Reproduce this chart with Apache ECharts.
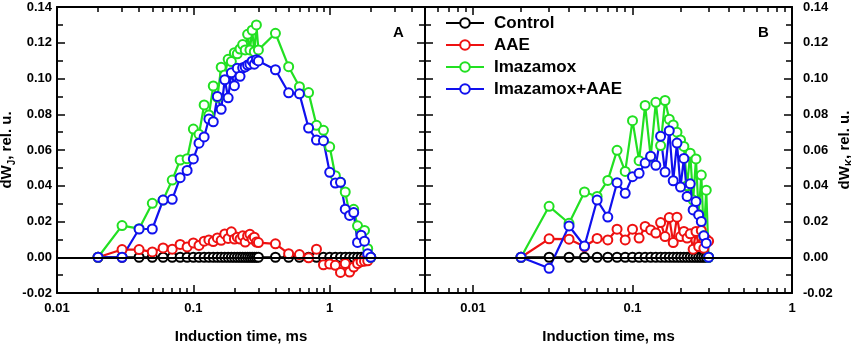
<!DOCTYPE html>
<html>
<head>
<meta charset="utf-8">
<script src="https://cdn.jsdelivr.net/npm/echarts@6.0.0/dist/echarts.min.js"></script>
<style>
  html, body { margin: 0; padding: 0; background: #fff; }
  #chart { width: 851px; height: 348px; }
</style>
</head>
<body>
<div id="chart"></div>
<script>
// induction times, ms
var timesA = [0.02, 0.03, 0.04, 0.05, 0.06, 0.07, 0.08, 0.09, 0.10, 0.11, 0.12, 0.13, 0.14, 0.15, 0.16,
  0.17, 0.18, 0.19, 0.20, 0.21, 0.22, 0.23, 0.24, 0.25, 0.26, 0.27, 0.28, 0.29, 0.30,
  0.4, 0.5, 0.6, 0.7, 0.8, 0.9, 1.0, 1.1, 1.2, 1.3, 1.4, 1.5, 1.6, 1.7, 1.8, 1.9, 2.0];
var timesB = [0.02, 0.03, 0.04, 0.05, 0.06, 0.07, 0.08, 0.09, 0.10, 0.11, 0.12, 0.13, 0.14, 0.15, 0.16,
  0.17, 0.18, 0.19, 0.20, 0.21, 0.22, 0.23, 0.24, 0.25, 0.26, 0.27, 0.28, 0.29, 0.30];

var seriesNames = ['Control', 'AAE', 'Imazamox', 'Imazamox+AAE'];
var seriesColors = ['#000000', '#ee1111', '#22e022', '#1010ee'];

// panel A: dWJ
var controlA = [0, 0, 0, 0, 0, 0, 0, 0, 0, 0, 0, 0, 0, 0, 0, 0, 0, 0, 0, 0, 0, 0, 0, 0, 0, 0, 0, 0, 0,
  0, 0, 0, 0, 0, 0, 0, 0, 0, 0, 0, 0, 0, 0, 0, 0, 0];
var aaeA = [0, 0.0043, 0.0043, 0.003, 0.0052, 0.0045, 0.0072, 0.0058, 0.008, 0.0066, 0.009, 0.0097, 0.0088,
  0.0108, 0.0095, 0.013, 0.0105, 0.0142, 0.0102, 0.0112, 0.0102, 0.012, 0.0085, 0.012, 0.0128, 0.0102,
  0.0112, 0.0085, 0.0082,
  0.0075, 0.002, 0.0015, -0.0003, 0.0045, -0.0042, -0.0038, -0.0045, -0.0085, -0.0035, -0.0083, -0.0055,
  -0.0035, -0.0025, -0.0022, -0.002, 0];
var imazA = [0, 0.0177, 0.016, 0.0302, 0.032, 0.0432, 0.0544, 0.0551, 0.0717, 0.0688, 0.0852, 0.0796, 0.0958,
  0.0895, 0.1063, 0.1020, 0.1107, 0.1095, 0.1144, 0.1138, 0.1165, 0.1190, 0.1160, 0.1247, 0.1160, 0.1270,
  0.1150, 0.1300, 0.1160,
  0.1253, 0.1066, 0.0954, 0.0921, 0.0738, 0.0710, 0.0618, 0.0456, 0.0420, 0.0365, 0.0240, 0.0268, 0.0176,
  0.0135, 0.0150, 0.0048, 0];
var imazAaeA = [0, 0, 0.0158, 0.0158, 0.032, 0.0324, 0.0445, 0.0486, 0.055, 0.0638, 0.0673, 0.0773, 0.0758,
  0.090, 0.0828, 0.0993, 0.0892, 0.1032, 0.0960, 0.1058, 0.1012, 0.1060, 0.1065, 0.1075, 0.1080, 0.1097,
  0.1080, 0.1105, 0.1098,
  0.1049, 0.092, 0.0914, 0.0723, 0.0656, 0.0652, 0.0475, 0.0415, 0.0419, 0.0269, 0.0234, 0.025, 0.0083,
  0.0123, 0.009, 0.002, 0];

// panel B: dWK
var controlB = [0, 0, 0, 0, 0, 0, 0, 0, 0, 0, 0, 0, 0, 0, 0, 0, 0, 0, 0, 0, 0, 0, 0, 0, 0, 0, 0, 0, 0];
var aaeB = [0, 0.0103, 0.0101, 0.006, 0.0105, 0.0097, 0.0157, 0.0097, 0.0157, 0.0107, 0.0172, 0.0153, 0.0135,
  0.0194, 0.0116, 0.0222, 0.0082, 0.0224, 0.0116, 0.0144, 0.0107, 0.0131, 0.0045, 0.0144, 0.006, 0.015,
  0.005, 0.0101, 0.009];
var imazB = [0, 0.0285, 0.019, 0.0365, 0.034, 0.043, 0.0598, 0.048, 0.0764, 0.054, 0.0849, 0.056, 0.0867,
  0.0625, 0.0877, 0.0772, 0.0740, 0.0700, 0.0656, 0.0620, 0.040, 0.0582, 0.032, 0.0550, 0.024, 0.0460,
  0.012, 0.0375, 0];
var imazAaeB = [0, -0.0062, 0.0175, 0.0063, 0.032, 0.0225, 0.0417, 0.0358, 0.0451, 0.0470, 0.0527, 0.0565,
  0.0514, 0.0677, 0.0477, 0.0708, 0.0428, 0.0639, 0.0393, 0.0553, 0.034, 0.0411, 0.0265, 0.0312, 0.0237,
  0.020, 0.012, 0.0079, 0];

// axis ticks
var xMajorA = [0.01, 0.1, 1];
var xMinorA = [0.02, 0.03, 0.04, 0.05, 0.06, 0.07, 0.08, 0.09, 0.2, 0.3, 0.4, 0.5, 0.6, 0.7, 0.8, 0.9, 2, 3, 4];
var xMajorB = [0.01, 0.1, 1];
var xMinorB = [0.006, 0.007, 0.008, 0.009, 0.02, 0.03, 0.04, 0.05, 0.06, 0.07, 0.08, 0.09,
  0.2, 0.3, 0.4, 0.5, 0.6, 0.7, 0.8, 0.9];
var yMin = -0.02, yMax = 0.14, yStep = 0.02;

var font = 'Liberation Sans';
var ink = '#000';

function xAxes(grid, min, max, majors, minors) {
  var list = [];
  ['bottom', 'top'].forEach(function (pos) {
    var main = {
      type: 'log', logBase: 10, gridIndex: grid, min: min, max: max, position: pos,
      axisLine: { show: true, onZero: false, lineStyle: { color: ink, width: 2 } },
      axisTick: { show: true, inside: true, length: 8, lineStyle: { color: ink, width: 1.5 }, customValues: majors },
      axisLabel: { show: false },
      splitLine: { show: false }
    };
    if (pos === 'bottom') {
      main.axisLabel = {
        show: true, customValues: majors, margin: 9, color: ink,
        fontFamily: font, fontWeight: 'bold', fontSize: 13,
        formatter: function (v) { return String(v); }
      };
      main.name = 'Induction time, ms';
      main.nameLocation = 'middle';
      main.nameGap = 36;
      main.nameTextStyle = { fontFamily: font, fontWeight: 'bold', fontSize: 15, color: ink };
    }
    list.push(main);
    list.push({
      type: 'log', logBase: 10, gridIndex: grid, min: min, max: max, position: pos,
      axisLine: { show: false, onZero: false },
      axisTick: { show: true, inside: true, length: 5, lineStyle: { color: ink, width: 1.5 }, customValues: minors },
      axisLabel: { show: false },
      splitLine: { show: false }
    });
  });
  return list;
}

function yAxis(grid, pos, showLabel, margin, sub, gap) {
  var ax = {
    type: 'value', gridIndex: grid, position: pos, min: yMin, max: yMax, interval: yStep,
    axisLine: { show: true, onZero: false, lineStyle: { color: ink, width: 2 } },
    axisTick: { show: true, inside: true, length: 8, lineStyle: { color: ink, width: 1.5 } },
    minorTick: { show: true, splitNumber: 2, length: 6, lineStyle: { color: ink, width: 1.5 } },
    splitLine: { show: false },
    axisLabel: { show: false }
  };
  if (showLabel) {
    ax.axisLabel = {
      show: true, margin: margin, color: ink, fontFamily: font, fontWeight: 'bold', fontSize: 13,
      formatter: function (v) { return v.toFixed(2); }
    };
    ax.name = '{a|dW}{s|' + sub + '}{a|, rel. u.}';
    ax.nameLocation = 'middle';
    ax.nameGap = gap;
    ax.nameTextStyle = {
      rich: {
        a: { fontFamily: font, fontWeight: 'bold', fontSize: 15, color: ink, lineHeight: 20 },
        s: { fontFamily: font, fontWeight: 'bold', fontSize: 10, color: ink, verticalAlign: 'bottom' }
      }
    };
  }
  return ax;
}

function makeSeries(names, xs, values, xi, yi) {
  return values.map(function (ys, k) {
    var s = {
      name: names[k], type: 'line', xAxisIndex: xi, yAxisIndex: yi,
      data: xs.map(function (x, i) { return [x, ys[i]]; }),
      symbol: 'emptyCircle', symbolSize: 9,
      color: seriesColors[k],
      lineStyle: { color: seriesColors[k], width: 2.2 },
      itemStyle: { color: seriesColors[k], borderWidth: 1.5 },
      animation: false
    };
    if (k === 0) {
      s.markLine = {
        silent: true, symbol: ['none', 'none'], label: { show: false }, animation: false,
        lineStyle: { color: ink, width: 2, type: 'solid' },
        data: [{ yAxis: 0 }]
      };
    }
    return s;
  });
}

var chart = echarts.init(document.getElementById('chart'));
chart.setOption({
  animation: false,
  grid: [
    { left: 57, right: 426, top: 7, bottom: 55, outerBoundsMode: 'none' },
    { left: 425, right: 59, top: 7, bottom: 55, outerBoundsMode: 'none' }
  ],
  xAxis: xAxes(0, 0.01, 5, xMajorA, xMinorA).concat(xAxes(1, 0.005, 1, xMajorB, xMinorB)),
  yAxis: [
    yAxis(0, 'left', true, 5, 'J', 40),
    yAxis(0, 'right', false),
    yAxis(1, 'left', false),
    yAxis(1, 'right', true, 11, 'K', 43)
  ],
  legend: {
    orient: 'vertical', left: 445, top: 14, padding: 0, itemGap: 4,
    itemWidth: 38, itemHeight: 12,
    data: seriesNames,
    textStyle: { fontFamily: font, fontWeight: 'bold', fontSize: 17, color: ink, lineHeight: 18, padding: [0, 0, 0, 5] }
  },
  graphic: [
    { type: 'text', left: 393, top: 25, style: { text: 'A', font: 'bold 15px "Liberation Sans"', fill: ink } },
    { type: 'text', left: 758, top: 25, style: { text: 'B', font: 'bold 15px "Liberation Sans"', fill: ink } }
  ],
  series: makeSeries(seriesNames, timesA, [controlA, aaeA, imazA, imazAaeA], 0, 0)
    .concat(makeSeries(seriesNames, timesB, [controlB, aaeB, imazB, imazAaeB], 4, 3))
});
</script>
</body>
</html>
